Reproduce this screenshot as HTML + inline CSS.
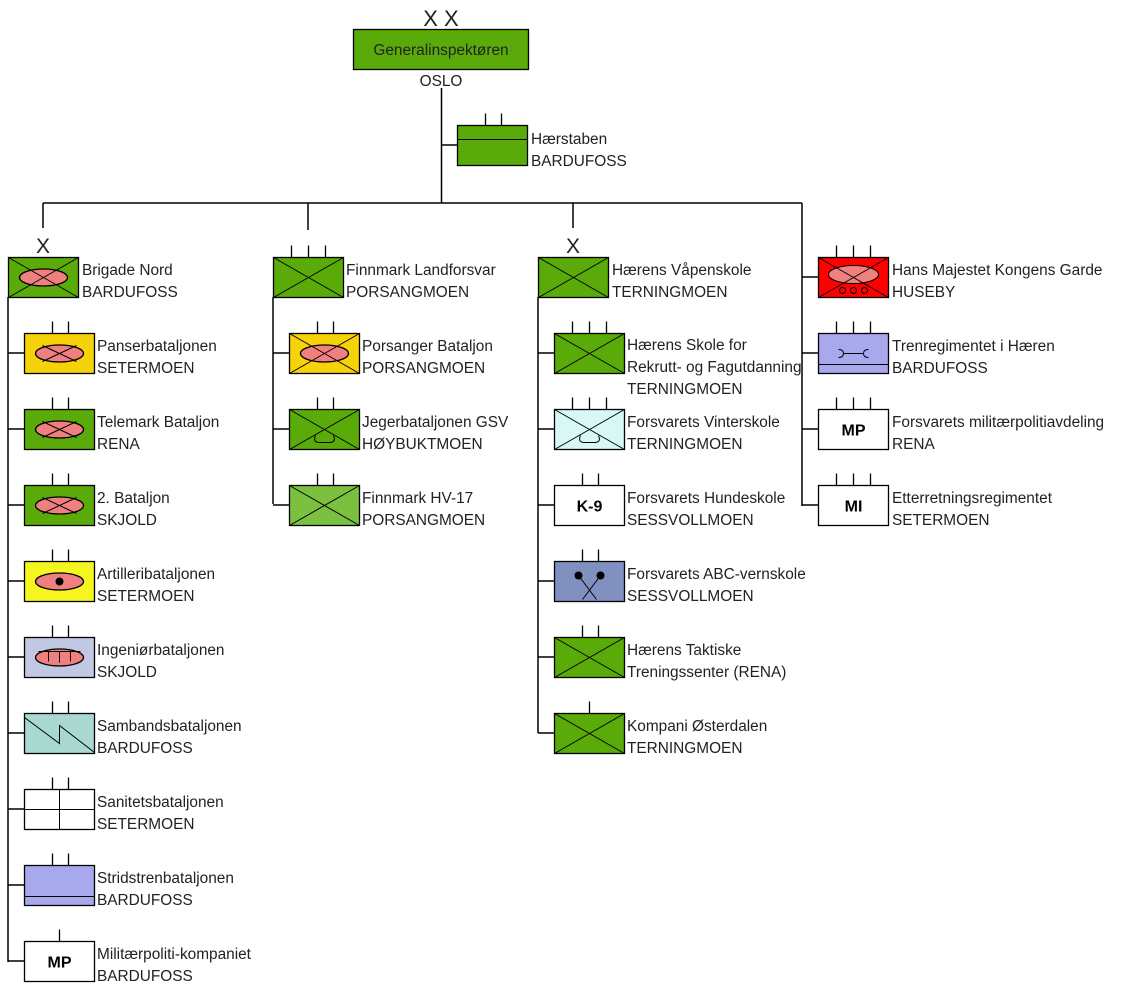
<!DOCTYPE html>
<html><head><meta charset="utf-8"><style>
html,body{margin:0;padding:0;background:#fff}
svg{display:block}
text{font-family:"Liberation Sans",Arial,sans-serif;font-size:15.4px;fill:#222}
.b{font-weight:bold;fill:#000;font-size:16px}
</style></head><body>
<svg width="1126" height="993" viewBox="0 0 1126 993" xmlns="http://www.w3.org/2000/svg">
<defs>
<g id="cx"><path d="M0,0L70,40M0,40L70,0" stroke="#000" stroke-width="1" fill="none"/></g>
<g id="el"><ellipse cx="35" cy="20" rx="24" ry="8.5" fill="#f08080" stroke="#000" stroke-width="1.3"/></g>
<g id="t2"><path d="M28,-12V0M44,-12V0" stroke="#000" stroke-width="1.3"/></g>
<g id="t3"><path d="M18,-12V0M35,-12V0M52,-12V0" stroke="#000" stroke-width="1.3"/></g>
<g id="t1"><path d="M35,-12V0" stroke="#000" stroke-width="1.3"/></g>
<g id="ski"><path d="M26,26 q-3,7 4,7 h10 q7,0 4,-7" stroke="#000" fill="none" stroke-width="1"/></g>
</defs>
<g stroke="#000" stroke-width="1.5" fill="none">
<path d="M441.5,88V203M441.5,145H457M43,203H802M43,203V228M308,203V230M573,203V228M802,203V506"/>
<path d="M8,297V962M273,297V504M538,297V733"/>
<path d="M8,353H24M8,429H24M8,505H24M8,581H24M8,657H24M8,733H24M8,809H24M8,885H24M8,961H24"/>
<path d="M273,353H289M273,429H289M273,505H289"/>
<path d="M538,353H554M538,429H554M538,505H554M538,581H554M538,657H554M538,733H554"/>
<path d="M802,277H818M802,353H818M802,429H818M802,505H818"/>
</g>
<text x="441" y="26" text-anchor="middle" style="font-size:22px">X X</text>
<rect x="353.5" y="29.5" width="175" height="40" fill="#5aaa0a" stroke="#000" stroke-width="1.3"/>
<text x="441" y="55" text-anchor="middle">Generalinspektøren</text>
<text x="441" y="86" text-anchor="middle">OSLO</text>
<g transform="translate(457.5,125.5)"><use href="#t2"/><rect width="70" height="40" fill="#5aaa0a" stroke="#000" stroke-width="1.3"/><path d="M0,14H70" stroke="#000"/></g>
<text x="531" y="144">Hærstaben</text><text x="531" y="166">BARDUFOSS</text>

<text x="43" y="253" text-anchor="middle" style="font-size:21px">X</text>
<g transform="translate(8.5,257.5)"><rect width="70" height="40" fill="#5aaa0a" stroke="#000" stroke-width="1.3"/><use href="#el"/><use href="#cx"/></g>
<text x="82" y="275">Brigade Nord</text><text x="82" y="297">BARDUFOSS</text>

<g transform="translate(24.5,333.5)"><use href="#t2"/><rect width="70" height="40" fill="#f5d20a" stroke="#000" stroke-width="1.3"/><use href="#el"/><path d="M18,12L52,28M18,28L52,12" stroke="#000"/></g>
<text x="97" y="351">Panserbataljonen</text><text x="97" y="373">SETERMOEN</text>
<g transform="translate(24.5,409.5)"><use href="#t2"/><rect width="70" height="40" fill="#5aaa0a" stroke="#000" stroke-width="1.3"/><use href="#el"/><path d="M18,12L52,28M18,28L52,12" stroke="#000"/></g>
<text x="97" y="427">Telemark Bataljon</text><text x="97" y="449">RENA</text>
<g transform="translate(24.5,485.5)"><use href="#t2"/><rect width="70" height="40" fill="#5aaa0a" stroke="#000" stroke-width="1.3"/><use href="#el"/><path d="M18,12L52,28M18,28L52,12" stroke="#000"/></g>
<text x="97" y="503">2. Bataljon</text><text x="97" y="525">SKJOLD</text>
<g transform="translate(24.5,561.5)"><use href="#t2"/><rect width="70" height="40" fill="#f5f520" stroke="#000" stroke-width="1.3"/><use href="#el"/><circle cx="35" cy="20" r="4" fill="#000"/></g>
<text x="97" y="579">Artilleribataljonen</text><text x="97" y="601">SETERMOEN</text>
<g transform="translate(24.5,637.5)"><use href="#t2"/><rect width="70" height="40" fill="#c0c8e4" stroke="#000" stroke-width="1.3"/><use href="#el"/><path d="M14,14H56M24,14V24M35,14V25M46,14V24" stroke="#000"/></g>
<text x="97" y="655">Ingeniørbataljonen</text><text x="97" y="677">SKJOLD</text>
<g transform="translate(24.5,713.5)"><use href="#t2"/><rect width="70" height="40" fill="#a8d8d0" stroke="#000" stroke-width="1.3"/><path d="M0,4L35,30V12L70,39" stroke="#000" fill="none"/></g>
<text x="97" y="731">Sambandsbataljonen</text><text x="97" y="753">BARDUFOSS</text>
<g transform="translate(24.5,789.5)"><use href="#t2"/><rect width="70" height="40" fill="#fff" stroke="#000" stroke-width="1.3"/><path d="M35,0V40M0,20H70" stroke="#000"/></g>
<text x="97" y="807">Sanitetsbataljonen</text><text x="97" y="829">SETERMOEN</text>
<g transform="translate(24.5,865.5)"><use href="#t2"/><rect width="70" height="40" fill="#a8a8ec" stroke="#000" stroke-width="1.3"/><path d="M0,31H70" stroke="#000"/></g>
<text x="97" y="883">Stridstrenbataljonen</text><text x="97" y="905">BARDUFOSS</text>
<g transform="translate(24.5,941.5)"><use href="#t1"/><rect width="70" height="40" fill="#fff" stroke="#000" stroke-width="1.3"/><text x="35" y="26" text-anchor="middle" class="b">MP</text></g>
<text x="97" y="959">Militærpoliti-kompaniet</text><text x="97" y="981">BARDUFOSS</text>

<g transform="translate(273.5,257.5)"><use href="#t3"/><rect width="70" height="40" fill="#5aaa0a" stroke="#000" stroke-width="1.3"/><use href="#cx"/></g>
<text x="346" y="275">Finnmark Landforsvar</text><text x="346" y="297">PORSANGMOEN</text>
<g transform="translate(289.5,333.5)"><use href="#t2"/><rect width="70" height="40" fill="#f5d20a" stroke="#000" stroke-width="1.3"/><use href="#el"/><use href="#cx"/></g>
<text x="362" y="351">Porsanger Bataljon</text><text x="362" y="373">PORSANGMOEN</text>
<g transform="translate(289.5,409.5)"><use href="#t2"/><rect width="70" height="40" fill="#5aaa0a" stroke="#000" stroke-width="1.3"/><use href="#cx"/><use href="#ski"/></g>
<text x="362" y="427">Jegerbataljonen GSV</text><text x="362" y="449">HØYBUKTMOEN</text>
<g transform="translate(289.5,485.5)"><use href="#t2"/><rect width="70" height="40" fill="#7cc040" stroke="#000" stroke-width="1.3"/><use href="#cx"/></g>
<text x="362" y="503">Finnmark HV-17</text><text x="362" y="525">PORSANGMOEN</text>

<text x="573" y="253" text-anchor="middle" style="font-size:21px">X</text>
<g transform="translate(538.5,257.5)"><rect width="70" height="40" fill="#5aaa0a" stroke="#000" stroke-width="1.3"/><use href="#cx"/></g>
<text x="612" y="275">Hærens Våpenskole</text><text x="612" y="297">TERNINGMOEN</text>
<g transform="translate(554.5,333.5)"><use href="#t3"/><rect width="70" height="40" fill="#5aaa0a" stroke="#000" stroke-width="1.3"/><use href="#cx"/></g>
<text x="627" y="350">Hærens Skole for</text><text x="627" y="372">Rekrutt- og Fagutdanning</text><text x="627" y="394">TERNINGMOEN</text>
<g transform="translate(554.5,409.5)"><use href="#t3"/><rect width="70" height="40" fill="#d8f8f8" stroke="#000" stroke-width="1.3"/><use href="#cx"/><use href="#ski"/></g>
<text x="627" y="427">Forsvarets Vinterskole</text><text x="627" y="449">TERNINGMOEN</text>
<g transform="translate(554.5,485.5)"><use href="#t2"/><rect width="70" height="40" fill="#fff" stroke="#000" stroke-width="1.3"/><text x="35" y="26" text-anchor="middle" class="b">K-9</text></g>
<text x="627" y="503">Forsvarets Hundeskole</text><text x="627" y="525">SESSVOLLMOEN</text>
<g transform="translate(554.5,561.5)"><use href="#t2"/><rect width="70" height="40" fill="#8090c0" stroke="#000" stroke-width="1.3"/><circle cx="24" cy="14" r="4" fill="#000"/><circle cx="46" cy="14" r="4" fill="#000"/><path d="M24,14L42,38M46,14L28,38" stroke="#000"/></g>
<text x="627" y="579">Forsvarets ABC-vernskole</text><text x="627" y="601">SESSVOLLMOEN</text>
<g transform="translate(554.5,637.5)"><use href="#t2"/><rect width="70" height="40" fill="#5aaa0a" stroke="#000" stroke-width="1.3"/><use href="#cx"/></g>
<text x="627" y="655">Hærens Taktiske</text><text x="627" y="677">Treningssenter (RENA)</text>
<g transform="translate(554.5,713.5)"><use href="#t1"/><rect width="70" height="40" fill="#5aaa0a" stroke="#000" stroke-width="1.3"/><use href="#cx"/></g>
<text x="627" y="731">Kompani Østerdalen</text><text x="627" y="753">TERNINGMOEN</text>

<g transform="translate(818.5,257.5)"><use href="#t3"/><rect width="70" height="40" fill="#f00" stroke="#000" stroke-width="1.3"/><ellipse cx="35" cy="17" rx="25" ry="9" fill="#f08080" stroke="#000"/><use href="#cx"/><circle cx="24" cy="33" r="3" fill="none" stroke="#000"/><circle cx="35" cy="33" r="3" fill="none" stroke="#000"/><circle cx="46" cy="33" r="3" fill="none" stroke="#000"/></g>
<text x="892" y="275">Hans Majestet Kongens Garde</text><text x="892" y="297">HUSEBY</text>
<g transform="translate(818.5,333.5)"><use href="#t3"/><rect width="70" height="40" fill="#a8a8ec" stroke="#000" stroke-width="1.3"/><path d="M0,31H70" stroke="#000"/><path d="M20,16q5,0 5,4q0,4 -5,4M25,20H45M50,16q-5,0 -5,4q0,4 5,4" stroke="#000" fill="none"/></g>
<text x="892" y="351">Trenregimentet i Hæren</text><text x="892" y="373">BARDUFOSS</text>
<g transform="translate(818.5,409.5)"><use href="#t3"/><rect width="70" height="40" fill="#fff" stroke="#000" stroke-width="1.3"/><text x="35" y="26" text-anchor="middle" class="b">MP</text></g>
<text x="892" y="427">Forsvarets militærpolitiavdeling</text><text x="892" y="449">RENA</text>
<g transform="translate(818.5,485.5)"><use href="#t3"/><rect width="70" height="40" fill="#fff" stroke="#000" stroke-width="1.3"/><text x="35" y="26" text-anchor="middle" class="b">MI</text></g>
<text x="892" y="503">Etterretningsregimentet</text><text x="892" y="525">SETERMOEN</text>
</svg>
</body></html>
